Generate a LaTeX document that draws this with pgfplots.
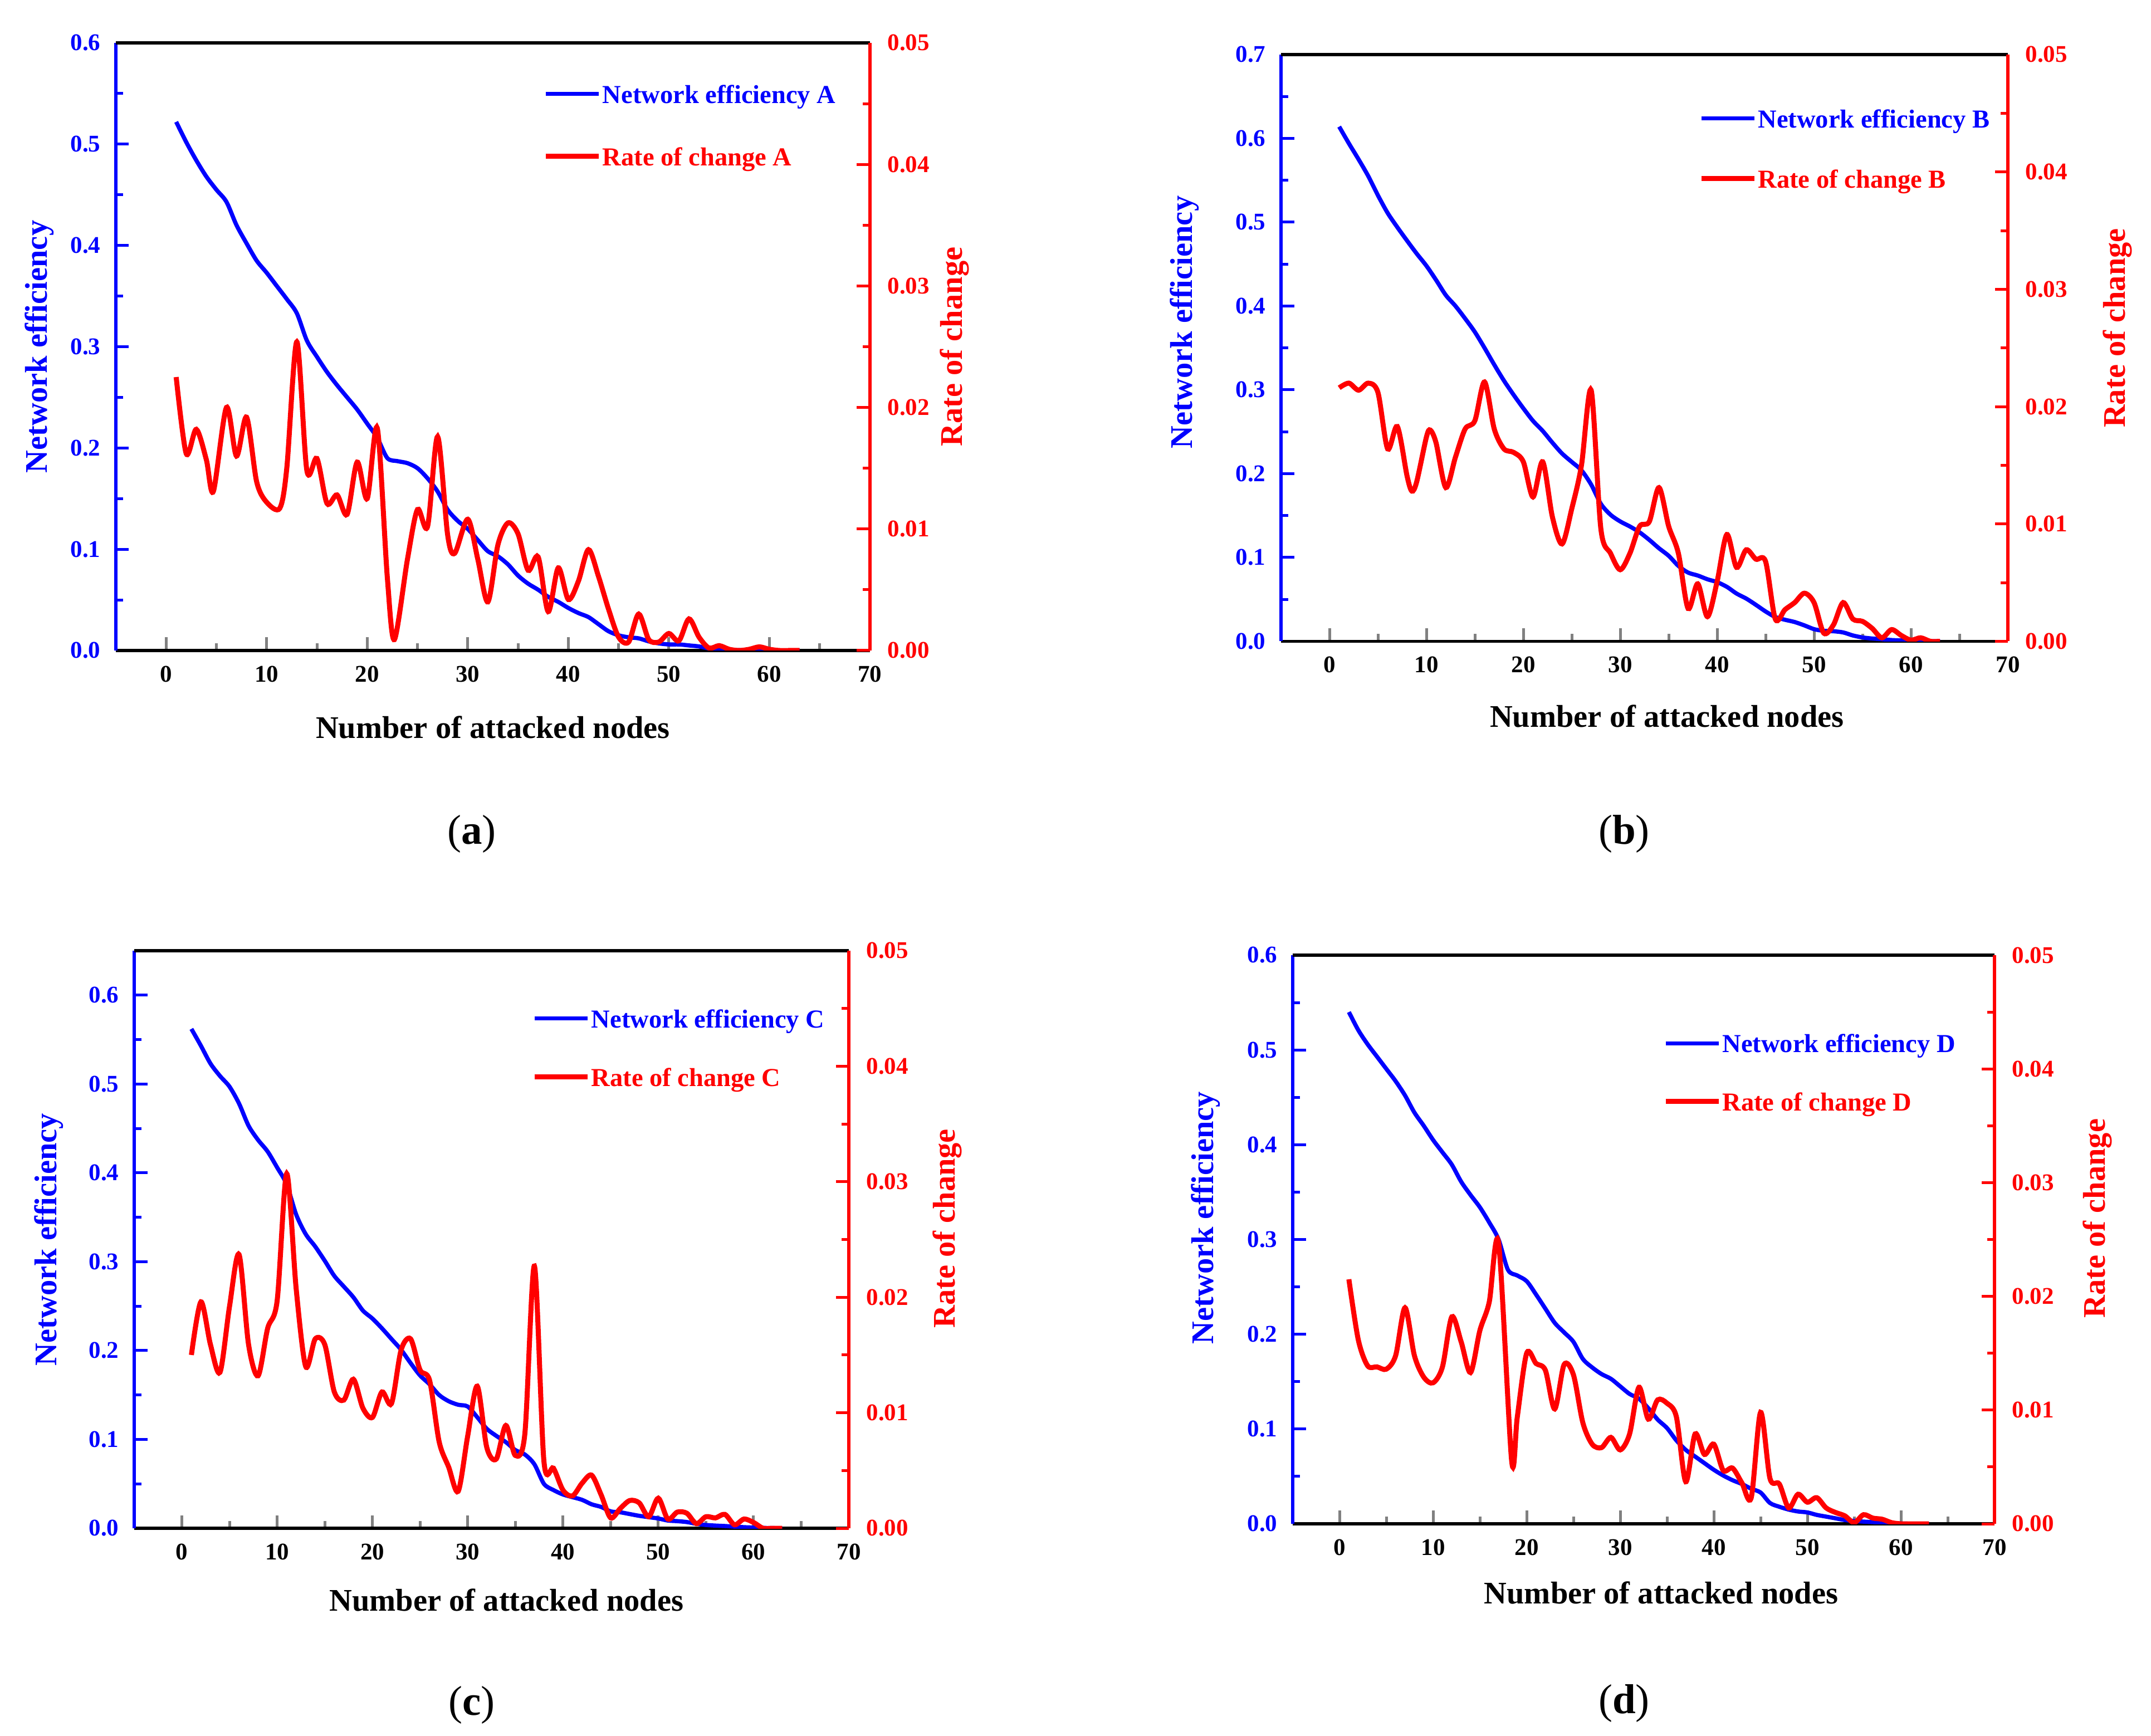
\documentclass[border=0pt]{standalone}
\usepackage{fontspec}
\setmainfont{Liberation Serif}
\usepackage{pgfplots}
\pgfplotsset{compat=1.18}

\newcommand{\tickfont}{\bfseries\fontsize{8.6}{10}\selectfont}
\newcommand{\labfont}{\bfseries\fontsize{11.3}{13}\selectfont}
\newcommand{\legfont}{\bfseries\fontsize{9.3}{11}\selectfont}

\pgfplotsset{
  panel/.style={
    scale only axis, xmin=-5, xmax=70, ymin=0,
    tick align=inside, major tick length=4.7pt, minor tick length=2.6pt,
    every tick/.append style={line width=1pt},
    axis line style={line width=1.05pt},
    ticklabel style={font=\tickfont},
    /pgf/number format/assume math mode=true,
    scaled y ticks=false,
    minor x tick num=1, minor y tick num=1,
    label style={font=\labfont},
    x axis line style={black},
  },
  leftax/.style={
    panel, axis x line*=bottom, axis y line*=left,
    xtick={0,10,20,30,40,50,60,70},
    xticklabel style={yshift=-2pt},
    y axis line style={blue}, y tick style={blue},
    yticklabel style={blue, xshift=-2pt, /pgf/number format/fixed,
      /pgf/number format/fixed zerofill, /pgf/number format/precision=1},
    xlabel={Number of attacked nodes},
    ylabel={\textcolor{blue}{Network efficiency}},
  },
  rightax/.style={
    panel, axis x line*=top, axis y line*=right, xtick=\empty,
    ymax=0.05, ytick={0,0.01,0.02,0.03,0.04,0.05},
    y axis line style={red}, y tick style={red},
    yticklabel style={red, xshift=2.8pt, /pgf/number format/fixed,
      /pgf/number format/fixed zerofill, /pgf/number format/precision=2},
    ylabel={\textcolor{red}{Rate of change}},
    legend cell align=left,
    legend image code/.code={\draw[##1] (0pt,0.8pt) -- (19pt,0.8pt);},
  },
  leg/.style={anchor=west, draw=none, fill=none,
    inner sep=0pt, nodes={inner sep=0pt}, font=\legfont,
    /tikz/every odd column/.append style={column sep=0.5pt}},
  effline/.style={blue, line width=1.5pt, smooth},
  rateline/.style={red, line width=1.8pt, smooth},
}

\begin{document}
\begin{tikzpicture}
\useasboundingbox (0,0) rectangle (772.4pt,623.2pt);

% ---------------- (a)
\begin{axis}[leftax, at={(41.6pt,389.6pt)}, anchor=south west,
  width=270.8pt, height=218.2pt, ymax=0.6,
  ytick={0,0.1,0.2,0.3,0.4,0.5,0.6},
  xlabel style={at={(axis description cs:0.5,0)}, yshift=-27.6pt, anchor=center},
  ylabel style={at={(axis description cs:-0.1012,0.5)}, anchor=center}]
\addplot[effline] coordinates {
(1,0.522) (2,0.502) (3,0.484) (4,0.468) (5,0.455) (6,0.443) (7,0.42) (8,0.402)
(9,0.385) (10,0.373) (11,0.36) (12,0.347) (13,0.333) (14,0.306) (15,0.29) (16,0.275)
(17,0.262) (18,0.25) (19,0.238) (20,0.224) (21,0.21) (22,0.19) (23,0.187) (24,0.185)
(25,0.18) (26,0.17) (27,0.157) (28,0.139) (29,0.128) (30,0.12) (31,0.109) (32,0.098)
(33,0.093) (34,0.085) (35,0.074) (36,0.066) (37,0.06) (38,0.053) (39,0.048) (40,0.042)
(41,0.037) (42,0.033) (43,0.026) (44,0.019) (45,0.015) (46,0.013) (47,0.012) (48,0.009)
(49,0.007) (50,0.006) (51,0.006) (52,0.005) (53,0.004) (54,0.002) (55,0.001) (56,0.0005)
(57,0.0003) (58,0.0002) (59,0.0001) (60,0) (61,0) (62,0) (63,0)};
\end{axis}
\begin{axis}[rightax, at={(41.6pt,389.6pt)}, anchor=south west,
  width=270.8pt, height=218.2pt,
  ylabel style={at={(axis description cs:1.112,0.5)}, anchor=center},
  legend style={leg, at={(axis description cs:0.566,0.861)}, row sep=14.4pt}]
\addlegendimage{effline}
\addlegendentry{\textcolor{blue}{Network efficiency A}}
\addplot[rateline] coordinates {
(1,0.0225) (2,0.0162) (3,0.0182) (4,0.0157) (4.7,0.0131) (6,0.020) (7,0.016) (8,0.0192)
(9,0.0139) (10,0.0122) (11.3,0.0117) (12,0.015) (13,0.0254) (14,0.0148) (15,0.0158)
(16,0.0121) (17,0.0128) (18,0.0112) (19,0.0155) (20,0.0125) (21,0.0183) (22,0.006)
(22.7,0.0009) (24,0.0075) (25,0.0116) (26,0.0102) (27,0.0176) (28,0.0095) (28.7,0.008)
(30,0.0108) (31,0.0075) (32,0.004) (33,0.0087) (34,0.0105) (35,0.0096) (36,0.0066)
(37,0.0077) (38,0.0032) (39,0.0068) (40,0.0042) (41,0.0057) (42,0.0083) (43,0.0061)
(44,0.0034) (45,0.0011) (46,0.0007) (47,0.003) (48,0.0009) (49,0.0007) (50,0.0014)
(51,0.0008) (52,0.0026) (53,0.0011) (54,0.0002) (55,0.0004) (56,0.0001) (57,0)
(58,0.0001) (59,0.0003) (60,0.0001) (61,0) (62,0) (63,0)};
\addlegendentry{\textcolor{red}{Rate of change A}}
\end{axis}

% ---------------- (b)
\begin{axis}[leftax, at={(460pt,392.9pt)}, anchor=south west,
  width=261pt, height=210.7pt, ymax=0.7,
  ytick={0,0.1,0.2,0.3,0.4,0.5,0.6,0.7},
  xlabel style={at={(axis description cs:0.531,0)}, yshift=-26.8pt, anchor=center},
  ylabel style={at={(axis description cs:-0.1326,0.544)}, anchor=center}]
\addplot[effline] coordinates {
(1,0.614) (2,0.594) (3,0.575) (4,0.555) (5,0.532) (6,0.511) (7,0.494) (8,0.478)
(9,0.4625) (10,0.448) (11,0.431) (12,0.413) (13,0.4) (14,0.385) (15,0.369) (16,0.35)
(17,0.33) (18,0.311) (19,0.294) (20,0.278) (21,0.263) (22,0.251) (23,0.237) (24,0.224)
(25,0.214) (26,0.204) (27,0.187) (28,0.164) (29,0.151) (30,0.143) (31,0.137) (32,0.13)
(33,0.121) (34,0.111) (35,0.102) (36,0.09) (37,0.082) (38,0.0785) (39,0.074) (40,0.0706)
(41,0.065) (42,0.057) (43,0.051) (44,0.0435) (45,0.0356) (46,0.029) (47,0.0257) (48,0.023)
(49,0.019) (50,0.0145) (51,0.0125) (52,0.012) (53,0.0106) (54,0.007) (55,0.0046) (56,0.0033)
(57,0.0025) (58,0.0015) (59,0.001) (60,0.0005) (61,0.0002) (62,0.0001) (63,0)};
\end{axis}
\begin{axis}[rightax, at={(460pt,392.9pt)}, anchor=south west,
  width=261pt, height=210.7pt,
  ylabel style={at={(axis description cs:1.1506,0.534)}, anchor=center},
  legend style={leg, at={(axis description cs:0.574,0.836)}, row sep=13.6pt}]
\addlegendimage{effline}
\addlegendentry{\textcolor{blue}{Network efficiency B}}
\addplot[rateline] coordinates {
(1,0.0216) (2,0.022) (3,0.0214) (4,0.022) (5,0.0212) (6,0.0164) (7,0.0183) (8,0.0141)
(8.5,0.0128) (9,0.0136) (10,0.0174) (10.4,0.018) (11,0.0169) (12,0.0131) (13,0.0157)
(14,0.0181) (15,0.0188) (16,0.0221) (17,0.0181) (18,0.0164) (19,0.0161) (20,0.0153)
(21,0.0123) (22,0.0153) (23,0.0106) (24,0.0083) (25,0.0113) (26,0.015) (27,0.0214)
(28,0.0096) (29,0.0075) (30,0.0061) (31,0.0075) (32,0.0098) (33,0.0102) (34,0.0131)
(35,0.0098) (36,0.0075) (37,0.0028) (38,0.0049) (39,0.0021) (40,0.0051) (41,0.0091)
(42,0.0063) (43,0.0078) (44,0.007) (45,0.0068) (46,0.0019) (47,0.0027) (48,0.0033)
(49,0.0041) (50,0.0033) (51,0.0007) (52,0.0014) (53,0.0033) (54,0.0019) (55,0.0017)
(56,0.0011) (57,0.0003) (58,0.001) (59,0.0005) (60,0.0001) (61,0.0003) (62,0) (63,0)};
\addlegendentry{\textcolor{red}{Rate of change B}}
\end{axis}

% ---------------- (c)
\begin{axis}[leftax, at={(48.2pt,74.4pt)}, anchor=south west,
  width=256.6pt, height=207.4pt, ymax=0.65,
  ytick={0,0.1,0.2,0.3,0.4,0.5,0.6},
  xlabel style={at={(axis description cs:0.521,0)}, yshift=-25.8pt, anchor=center},
  ylabel style={at={(axis description cs:-0.1196,0.5)}, anchor=center}]
\addplot[effline] coordinates {
(1,0.562) (2,0.543) (3,0.523) (4,0.509) (5,0.497) (6,0.478) (7,0.453) (8,0.437)
(9,0.424) (10,0.406) (11,0.387) (12,0.353) (13,0.331) (14,0.317) (15,0.301) (16,0.284)
(17,0.272) (18,0.26) (19,0.245) (20,0.236) (21,0.225) (22,0.213) (23,0.201) (24,0.186)
(25,0.172) (26,0.162) (27,0.15) (28,0.143) (29,0.139) (30,0.137) (31,0.125) (32,0.112)
(33,0.104) (34,0.097) (35,0.088) (36,0.083) (37,0.072) (38,0.05) (39,0.043) (40,0.038)
(41,0.035) (42,0.032) (43,0.027) (44,0.024) (45,0.019) (46,0.018) (47,0.016) (48,0.014)
(49,0.0125) (50,0.011) (51,0.0087) (52,0.008) (53,0.007) (54,0.005) (55,0.0037) (56,0.003)
(57,0.0025) (58,0.0018) (59,0.0012) (60,0.0008) (61,0.0004) (62,0.0002) (63,0)};
\end{axis}
\begin{axis}[rightax, at={(48.2pt,74.4pt)}, anchor=south west,
  width=256.6pt, height=207.4pt,
  ylabel style={at={(axis description cs:1.1376,0.519)}, anchor=center},
  legend style={leg, at={(axis description cs:0.556,0.828)}, row sep=13pt}]
\addlegendimage{effline}
\addlegendentry{\textcolor{blue}{Network efficiency C}}
\addplot[rateline] coordinates {
(1,0.015) (2,0.0196) (3,0.0159) (4,0.0135) (5,0.0192) (6,0.0237) (7,0.0159) (8,0.0132)
(9,0.0173) (10,0.0197) (11,0.0307) (12,0.0207) (13,0.014) (14,0.0164) (15,0.0159)
(16,0.0118) (17,0.0111) (18,0.0129) (19,0.0104) (20,0.0096) (21,0.0118) (22,0.0108)
(23,0.0154) (24,0.0164) (25,0.0137) (26,0.0128) (27,0.0075) (28,0.0053) (29,0.0032)
(30,0.008) (31,0.0123) (32,0.007) (33,0.006) (34,0.0089) (35,0.0063) (36,0.0082)
(37,0.0227) (38,0.0058) (39,0.0052) (40,0.0033) (41,0.0028) (42,0.0039) (43,0.0046)
(44,0.0029) (45,0.0009) (46,0.0017) (47,0.0024) (48,0.0022) (49,0.001) (50,0.0026)
(51,0.0008) (52,0.0014) (53,0.0013) (54,0.0004) (55,0.001) (56,0.0009) (57,0.0012)
(58,0.0003) (59,0.0008) (60,0.0005) (61,0) (62,0) (63,0)};
\addlegendentry{\textcolor{red}{Rate of change C}}
\end{axis}

% ---------------- (d)
\begin{axis}[leftax, at={(464.2pt,76pt)}, anchor=south west,
  width=252pt, height=204.2pt, ymax=0.6,
  ytick={0,0.1,0.2,0.3,0.4,0.5,0.6},
  xlabel style={at={(axis description cs:0.525,0)}, yshift=-24.8pt, anchor=center},
  ylabel style={at={(axis description cs:-0.1238,0.538)}, anchor=center}]
\addplot[effline] coordinates {
(1,0.54) (2,0.521) (3,0.506) (4,0.493) (5,0.48) (6,0.467) (7,0.452) (8,0.434)
(9,0.42) (10,0.405) (11,0.392) (12,0.379) (13,0.361) (14,0.347) (15,0.334) (16,0.318)
(17,0.3) (18,0.268) (19,0.262) (20,0.256) (21,0.242) (22,0.227) (23,0.212) (24,0.202)
(25,0.192) (26,0.174) (27,0.165) (28,0.158) (29,0.153) (30,0.145) (31,0.137) (32,0.132)
(33,0.122) (34,0.11) (35,0.101) (36,0.088) (37,0.078) (38,0.071) (39,0.064) (40,0.057)
(41,0.051) (42,0.046) (43,0.042) (44,0.037) (45,0.033) (46,0.022) (47,0.018) (48,0.015)
(49,0.013) (50,0.012) (51,0.0094) (52,0.0076) (53,0.0058) (54,0.004) (55,0.003) (56,0.0023)
(57,0.0018) (58,0.0012) (59,0.0007) (60,0.0003) (61,0.0001) (62,0) (63,0)};
\end{axis}
\begin{axis}[rightax, at={(464.2pt,76pt)}, anchor=south west,
  width=252pt, height=204.2pt,
  ylabel style={at={(axis description cs:1.1464,0.537)}, anchor=center},
  legend style={leg, at={(axis description cs:0.527,0.79)}, row sep=12.8pt}]
\addlegendimage{effline}
\addlegendentry{\textcolor{blue}{Network efficiency D}}
\addplot[rateline] coordinates {
(1,0.0215) (2,0.0162) (3,0.0139) (4,0.0138) (5,0.0136) (6,0.0148) (7,0.019) (8,0.0148)
(9,0.0129) (10,0.0124) (11,0.0138) (12,0.0182) (13,0.016) (14,0.0133) (15,0.017)
(16,0.0195) (17,0.0247) (18.4,0.0055) (19,0.0094) (20,0.015) (21,0.0141) (22,0.0135)
(23,0.0101) (24,0.014) (25,0.0131) (26,0.0089) (27,0.007) (28,0.0067) (29,0.0076)
(30,0.0065) (31,0.0079) (32,0.012) (33,0.0092) (34,0.0109) (35,0.0106) (36,0.0094)
(37,0.0037) (38,0.0079) (39,0.0061) (40,0.007) (41,0.0047) (42,0.0049) (43,0.0036)
(44,0.0023) (45,0.0098) (46,0.004) (47,0.0035) (48,0.0014) (49,0.0026) (50,0.0019)
(51,0.0023) (52,0.0014) (53,0.001) (54,0.0007) (55,0.0001) (56,0.0008) (57,0.0005)
(58,0.0004) (59,0.0001) (60,0) (61,0) (62,0) (63,0)};
\addlegendentry{\textcolor{red}{Rate of change D}}
\end{axis}

\node[font=\fontsize{15}{18}\selectfont] at (169.4pt,323.8pt) {(\textbf{a})};
\node[font=\fontsize{15}{18}\selectfont] at (583.2pt,323.8pt) {(\textbf{b})};
\node[font=\fontsize{15}{18}\selectfont] at (169.4pt,10.9pt) {(\textbf{c})};
\node[font=\fontsize{15}{18}\selectfont] at (583.2pt,11.6pt) {(\textbf{d})};
\end{tikzpicture}
\end{document}
